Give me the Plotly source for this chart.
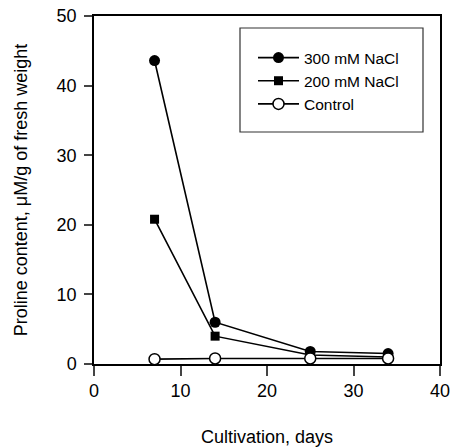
import plotly.graph_objects as go

days = [7, 14, 25, 34]
nacl_300 = [43.6, 6.0, 1.8, 1.5]
nacl_200 = [20.8, 4.0, 1.3, 1.0]
control = [0.7, 0.8, 0.8, 0.8]

x_ticks = [0, 10, 20, 30, 40]
y_ticks = [0, 10, 20, 30, 40, 50]

FONT = "Liberation Sans, Arial, sans-serif"

fig = go.Figure()
fig.add_trace(go.Scatter(x=days, y=nacl_300, mode="lines+markers", name="300 mM NaCl",
                         line=dict(color="black", width=1.6),
                         marker=dict(symbol="circle", size=11, color="black")))
fig.add_trace(go.Scatter(x=days, y=nacl_200, mode="lines+markers", name="200 mM NaCl",
                         line=dict(color="black", width=1.6),
                         marker=dict(symbol="square", size=9, color="black")))
fig.add_trace(go.Scatter(x=days, y=control, mode="lines+markers", name="Control",
                         line=dict(color="black", width=1.6),
                         marker=dict(symbol="circle", size=11, color="white",
                                     line=dict(color="black", width=1.5))))

# plot area: x 94..440, y 16..364
fig.add_shape(type="rect", xref="paper", yref="paper",
              x0=(240 - 94) / 346, x1=(423 - 94) / 346,
              y0=(364 - 132) / 348, y1=(364 - 28) / 348,
              line=dict(color="#333333", width=1.2), fillcolor="rgba(0,0,0,0)")

fig.update_layout(
    width=452, height=448,
    margin=dict(l=94, r=12, t=16, b=84),
    paper_bgcolor="white", plot_bgcolor="white",
    font=dict(family=FONT, size=18, color="black"),
    showlegend=True,
    legend=dict(x=(253 - 94) / 346, y=(364 - 41) / 348, xanchor="left", yanchor="top",
                bgcolor="rgba(0,0,0,0)", borderwidth=0, itemwidth=41,
                font=dict(family=FONT, size=15.5), traceorder="normal"),
    xaxis=dict(range=[0, 40], tickvals=x_ticks, ticks="outside", ticklen=10, tickwidth=1.5,
               showline=True, linecolor="black", linewidth=1.5, mirror=True,
               showgrid=False, zeroline=False, automargin=False,
               tickfont=dict(size=18),
               title=dict(text="Cultivation, days", standoff=30, font=dict(size=18))),
    yaxis=dict(range=[0, 50], tickvals=y_ticks, ticks="outside", ticklen=8, tickwidth=1.5,
               showline=True, linecolor="black", linewidth=1.5, mirror=True,
               showgrid=False, zeroline=False, automargin=False,
               tickfont=dict(size=18), ticklabelstandoff=4,
               title=dict(text="Proline content, μM/g of fresh weight", standoff=24,
                          font=dict(size=18))),
)

fig.write_html("out.html", config={"displayModeBar": False},
               post_script="document.body.style.margin='0';")
